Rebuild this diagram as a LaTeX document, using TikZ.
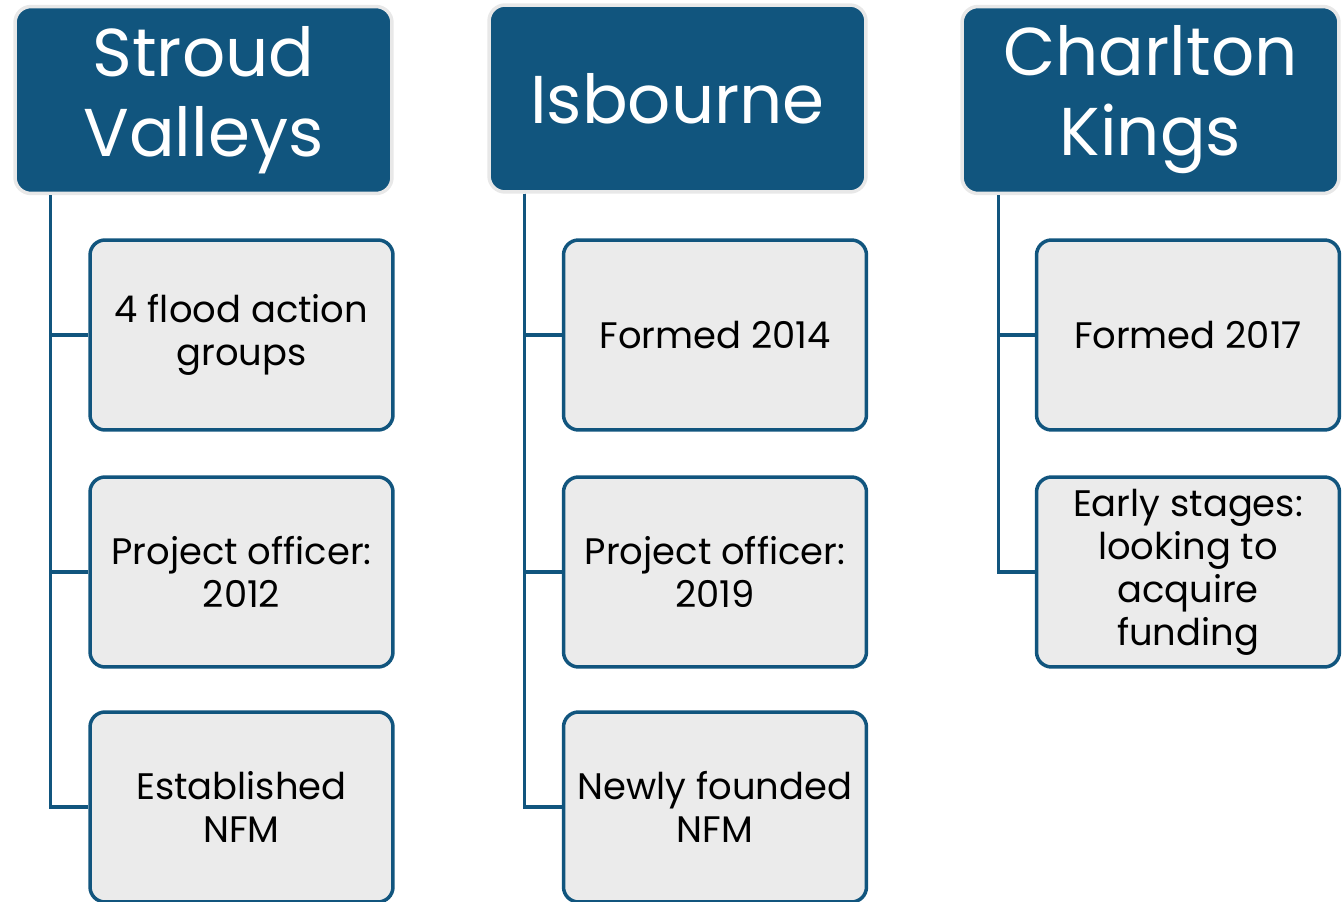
\documentclass[tikz,border=0pt]{standalone}
\usepackage{fontspec}
\setmainfont{Poppins}
\usetikzlibrary{positioning}
\definecolor{hdrblue}{RGB}{17,85,126}
\definecolor{boxgrey}{RGB}{235,235,235}
\definecolor{rimgrey}{RGB}{232,232,232}
\tikzset{hdr/.style = {fill=hdrblue, draw=rimgrey, line width=0.07cm, rounded corners=0.32cm,
                       minimum width=7.54cm, minimum height=3.74cm, inner sep=0,
                       text=white, align=center, font=\fontsize{38.5}{45.5}\selectfont}}
\tikzset{item/.style = {fill=boxgrey, draw=hdrblue, line width=0.07cm, rounded corners=0.3cm,
                        minimum width=6.06cm, minimum height=3.8cm, inner sep=0,
                        align=center, font=\fontsize{21}{24.5}\selectfont}}
\tikzset{trunk/.style = {draw=hdrblue, line width=0.07cm}}

\begin{document}
\begin{tikzpicture}[x=0.02cm, y=-0.02cm]
      \useasboundingbox (0,0) rectangle (1342,902);

      \node [hdr] (sv) at (203.5, 100) {Stroud\\Valleys};
      \node [hdr] (isb) at (677.5, 98.5) {Isbourne};
      \node [hdr] (ck) at (1150.5, 100) {Charlton\\Kings};

      \node [item] (sv1) at (241.5, 335) {4 flood action\\groups};
      \node [item] (sv2) at (241.5, 572) {Project officer:\\2012};
      \node [item] (sv3) at (241.5, 807) {Established\\NFM};

      \node [item] (isb1) at (715, 335) {Formed 2014};
      \node [item] (isb2) at (715, 572) {Project officer:\\2019};
      \node [item] (isb3) at (715, 807) {Newly founded\\NFM};

      \node [item] (ck1) at (1188, 335) {Formed 2017};
      \node [item] (ck2) at (1188, 572) {Early stages:\\looking to\\acquire\\funding};

      \draw [trunk] ([xshift=0.74cm]sv.south west) |- (sv3.west);
      \draw [trunk] ([xshift=0.74cm]sv.south west) |- (sv1.west);
      \draw [trunk] ([xshift=0.74cm]sv.south west) |- (sv2.west);

      \draw [trunk] ([xshift=0.74cm]isb.south west) |- (isb3.west);
      \draw [trunk] ([xshift=0.74cm]isb.south west) |- (isb1.west);
      \draw [trunk] ([xshift=0.74cm]isb.south west) |- (isb2.west);

      \draw [trunk] ([xshift=0.76cm]ck.south west) |- (ck2.west);
      \draw [trunk] ([xshift=0.76cm]ck.south west) |- (ck1.west);
    \end{tikzpicture}
\end{document}
